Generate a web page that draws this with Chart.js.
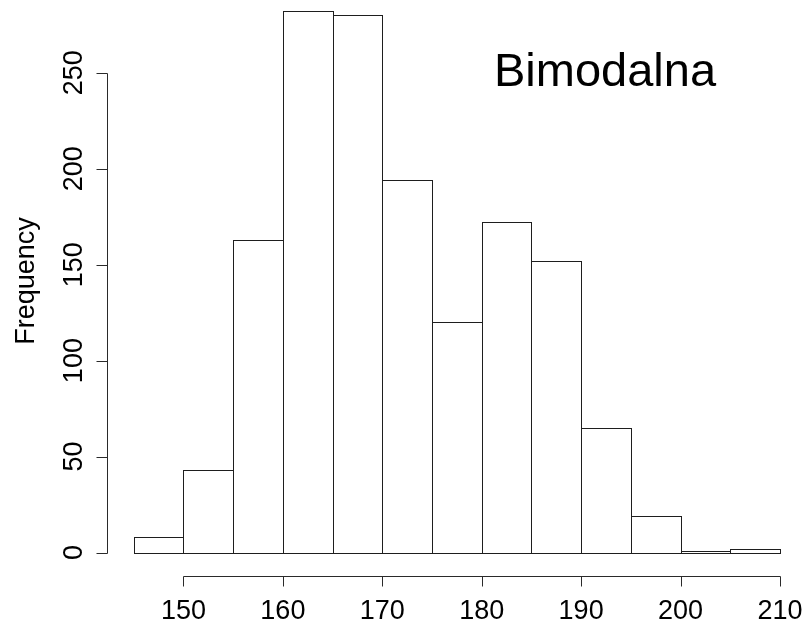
<!DOCTYPE html>
<html>
<head>
<meta charset="utf-8">
<script src="https://cdn.jsdelivr.net/npm/chart.js@4"></script>
<style>
  html, body { margin: 0; padding: 0; background: #ffffff; }
  #c { display: block; }
</style>
</head>
<body>
<canvas id="c" width="810" height="624"></canvas>
<script>
// ---- data ----
const binStarts   = [145, 150, 155, 160, 165, 170, 175, 180, 185, 190, 195, 200, 205];
const frequencies = [8, 43, 163, 282, 280, 194, 120, 172, 152, 65, 19, 1, 2];
const binWidth    = 5;
const xTicks      = [150, 160, 170, 180, 190, 200, 210];
const yTicks      = [0, 50, 100, 150, 200, 250];
const yLabel      = 'Frequency';
const titleText   = 'Bimodalna';

const points = binStarts.map((s, i) => ({ x: s + binWidth / 2, y: frequencies[i] }));

const FONT = '"Liberation Sans", Arial, Helvetica, sans-serif';
const INK = '#1e1e1e';

const bgPlugin = {
  id: 'bg',
  beforeDraw(chart) {
    const ctx = chart.ctx;
    ctx.save();
    ctx.fillStyle = '#ffffff';
    ctx.fillRect(0, 0, chart.width, chart.height);
    ctx.restore();
  }
};

const rPlotPlugin = {
  id: 'rplot',
  afterDatasetsDraw(chart) {
    const ctx = chart.ctx;
    const meta = chart.getDatasetMeta(0);
    ctx.save();
    ctx.strokeStyle = INK;
    ctx.lineWidth = 1;
    meta.data.forEach(el => {
      const p = el.getProps(['x', 'y', 'base', 'width'], true);
      const l = Math.round(p.x - p.width / 2) + 0.5;
      const r = Math.round(p.x + p.width / 2) + 0.5;
      const t = Math.round(p.y) + 0.5;
      const b = Math.round(p.base) + 0.5;
      ctx.strokeRect(l, t, r - l, b - t);
    });
    ctx.restore();
  },
  afterDraw(chart) {
    const ctx = chart.ctx;
    const xs = chart.scales.x, ys = chart.scales.y;
    const area = chart.chartArea;
    ctx.save();
    ctx.strokeStyle = '#2a2a2a';
    ctx.lineWidth = 1;
    ctx.fillStyle = '#000000';
    ctx.font = '27px ' + FONT;

    // y axis (R style: spans first to last tick)
    const ax = Math.round(area.left) - 0.5;
    const y0 = Math.round(ys.getPixelForValue(yTicks[0])) + 0.5;
    const y1 = Math.round(ys.getPixelForValue(yTicks[yTicks.length - 1])) + 0.5;
    ctx.beginPath();
    ctx.moveTo(ax, y0); ctx.lineTo(ax, y1);
    yTicks.forEach(v => {
      const py = Math.round(ys.getPixelForValue(v)) + 0.5;
      ctx.moveTo(ax, py); ctx.lineTo(ax - 11, py);
    });
    ctx.stroke();
    ctx.textAlign = 'center';
    ctx.textBaseline = 'alphabetic';
    yTicks.forEach(v => {
      const py = ys.getPixelForValue(v);
      ctx.save();
      ctx.translate(82, py);
      ctx.rotate(-Math.PI / 2);
      ctx.fillText(String(v), 0, 0);
      ctx.restore();
    });
    // y axis title
    ctx.save();
    ctx.translate(34, 281);
    ctx.rotate(-Math.PI / 2);
    ctx.fillText(yLabel, 0, 0);
    ctx.restore();

    // x axis (R style)
    const ay = 576.5;
    const xa = Math.round(xs.getPixelForValue(xTicks[0])) + 0.5;
    const xb = Math.round(xs.getPixelForValue(xTicks[xTicks.length - 1])) + 0.5;
    ctx.beginPath();
    ctx.moveTo(xa, ay); ctx.lineTo(xb, ay);
    xTicks.forEach(v => {
      const px = Math.round(xs.getPixelForValue(v)) + 0.5;
      ctx.moveTo(px, ay); ctx.lineTo(px, ay + 10);
    });
    ctx.stroke();
    xTicks.forEach(v => {
      ctx.fillText(String(v), xs.getPixelForValue(v), 619);
    });

    // title inside plot
    ctx.textAlign = 'left';
    ctx.font = '47px ' + FONT;
    ctx.fillText(titleText, 494, 86);
    ctx.restore();
  }
};

new Chart(document.getElementById('c'), {
  type: 'bar',
  data: {
    datasets: [{
      label: yLabel,
      data: points,
      backgroundColor: 'rgba(255,255,255,0)',
      borderWidth: 0,
      barPercentage: 1,
      categoryPercentage: 1
    }]
  },
  options: {
    responsive: false,
    animation: false,
    devicePixelRatio: 1,
    layout: { padding: { left: 107.9, right: 4.2, top: 0, bottom: 49.8 } },
    plugins: { legend: { display: false }, tooltip: { enabled: false }, title: { display: false } },
    scales: {
      x: {
        type: 'linear',
        display: false,
        offset: false,
        grid: { offset: false },
        min: 142.4,
        max: 212.6,
        afterBuildTicks: (scale) => { scale.ticks = xTicks.map(v => ({ value: v })); }
      },
      y: {
        type: 'linear',
        display: false,
        min: -11.3,
        max: 287.9,
        afterBuildTicks: (scale) => { scale.ticks = yTicks.map(v => ({ value: v })); }
      }
    }
  },
  plugins: [bgPlugin, rPlotPlugin]
});
</script>
</body>
</html>
